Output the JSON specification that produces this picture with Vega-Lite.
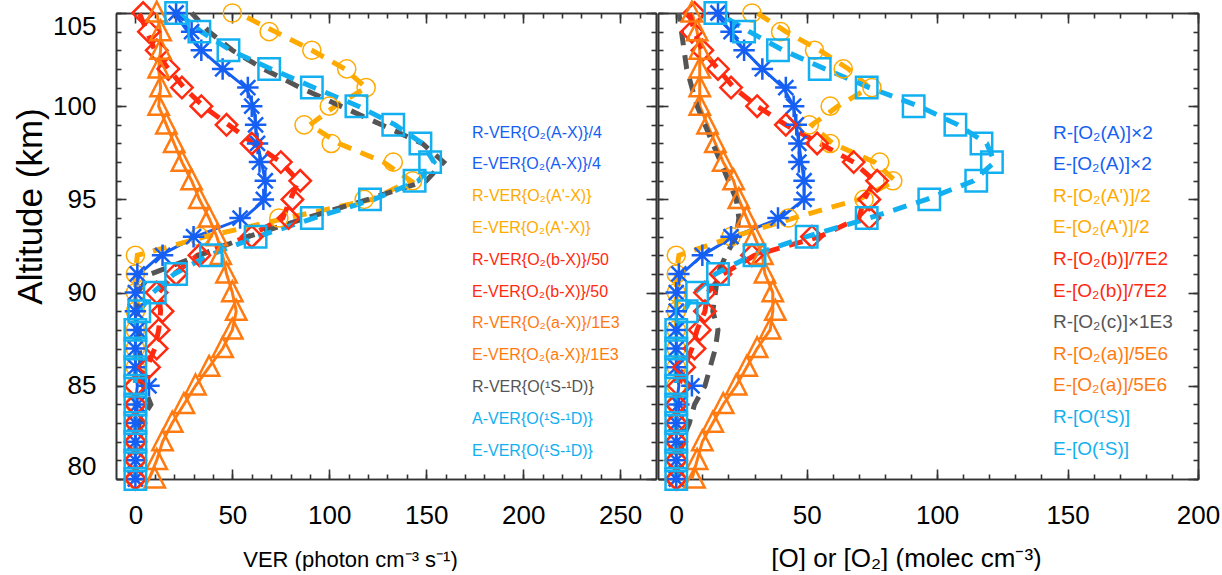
{
"$schema":"https://vega.github.io/schema/vega-lite/v6.json",
"background":"white",
"padding":{"left":13,"top":-4,"right":3,"bottom":0},
"datasets":{
"Lsolid":[
{"s":"R-VER{O₂(A-X)}/4","a":105,"v":20},{"s":"R-VER{O₂(A-X)}/4","a":104,"v":27},{"s":"R-VER{O₂(A-X)}/4","a":103,"v":34},{"s":"R-VER{O₂(A-X)}/4","a":102,"v":45},{"s":"R-VER{O₂(A-X)}/4","a":101,"v":57},{"s":"R-VER{O₂(A-X)}/4","a":100,"v":61},{"s":"R-VER{O₂(A-X)}/4","a":99,"v":62},{"s":"R-VER{O₂(A-X)}/4","a":98,"v":63},{"s":"R-VER{O₂(A-X)}/4","a":97,"v":65},{"s":"R-VER{O₂(A-X)}/4","a":96,"v":67},{"s":"R-VER{O₂(A-X)}/4","a":95,"v":67},{"s":"R-VER{O₂(A-X)}/4","a":94,"v":56},{"s":"R-VER{O₂(A-X)}/4","a":93,"v":31},{"s":"R-VER{O₂(A-X)}/4","a":92,"v":13},{"s":"R-VER{O₂(A-X)}/4","a":91,"v":2},{"s":"R-VER{O₂(A-X)}/4","a":90,"v":0},{"s":"R-VER{O₂(A-X)}/4","a":89,"v":0},{"s":"R-VER{O₂(A-X)}/4","a":88,"v":0},{"s":"R-VER{O₂(A-X)}/4","a":87,"v":0},{"s":"R-VER{O₂(A-X)}/4","a":86,"v":0},{"s":"R-VER{O₂(A-X)}/4","a":85,"v":1},{"s":"R-VER{O₂(A-X)}/4","a":84,"v":0},{"s":"R-VER{O₂(A-X)}/4","a":83,"v":0},{"s":"R-VER{O₂(A-X)}/4","a":82,"v":0},{"s":"R-VER{O₂(A-X)}/4","a":81,"v":0},{"s":"R-VER{O₂(A-X)}/4","a":80,"v":0},
{"s":"R-VER{O₂(a-X)}/1E3","a":105,"v":11},{"s":"R-VER{O₂(a-X)}/1E3","a":104,"v":13},{"s":"R-VER{O₂(a-X)}/1E3","a":103,"v":13},{"s":"R-VER{O₂(a-X)}/1E3","a":102,"v":12},{"s":"R-VER{O₂(a-X)}/1E3","a":101,"v":13},{"s":"R-VER{O₂(a-X)}/1E3","a":100,"v":12},{"s":"R-VER{O₂(a-X)}/1E3","a":99,"v":16},{"s":"R-VER{O₂(a-X)}/1E3","a":98,"v":20},{"s":"R-VER{O₂(a-X)}/1E3","a":97,"v":24},{"s":"R-VER{O₂(a-X)}/1E3","a":96,"v":29},{"s":"R-VER{O₂(a-X)}/1E3","a":95,"v":33},{"s":"R-VER{O₂(a-X)}/1E3","a":94,"v":38},{"s":"R-VER{O₂(a-X)}/1E3","a":93,"v":42},{"s":"R-VER{O₂(a-X)}/1E3","a":92,"v":45},{"s":"R-VER{O₂(a-X)}/1E3","a":91,"v":47},{"s":"R-VER{O₂(a-X)}/1E3","a":90,"v":50},{"s":"R-VER{O₂(a-X)}/1E3","a":89,"v":52},{"s":"R-VER{O₂(a-X)}/1E3","a":88,"v":50},{"s":"R-VER{O₂(a-X)}/1E3","a":87,"v":45},{"s":"R-VER{O₂(a-X)}/1E3","a":86,"v":38},{"s":"R-VER{O₂(a-X)}/1E3","a":85,"v":31},{"s":"R-VER{O₂(a-X)}/1E3","a":84,"v":25},{"s":"R-VER{O₂(a-X)}/1E3","a":83,"v":19},{"s":"R-VER{O₂(a-X)}/1E3","a":82,"v":14},{"s":"R-VER{O₂(a-X)}/1E3","a":81,"v":11},{"s":"R-VER{O₂(a-X)}/1E3","a":80,"v":7}
],
"Ldash":[
{"s":"R-VER{O₂(A'-X)}","a":105,"v":53},{"s":"R-VER{O₂(A'-X)}","a":104,"v":72},{"s":"R-VER{O₂(A'-X)}","a":103,"v":91},{"s":"R-VER{O₂(A'-X)}","a":102,"v":108},{"s":"R-VER{O₂(A'-X)}","a":101,"v":119},{"s":"R-VER{O₂(A'-X)}","a":100,"v":103},{"s":"R-VER{O₂(A'-X)}","a":99,"v":90},{"s":"R-VER{O₂(A'-X)}","a":98,"v":105},{"s":"R-VER{O₂(A'-X)}","a":97,"v":128},{"s":"R-VER{O₂(A'-X)}","a":96,"v":142},{"s":"R-VER{O₂(A'-X)}","a":95,"v":122},{"s":"R-VER{O₂(A'-X)}","a":94,"v":78},{"s":"R-VER{O₂(A'-X)}","a":93,"v":36},{"s":"R-VER{O₂(A'-X)}","a":92,"v":1},{"s":"R-VER{O₂(A'-X)}","a":91,"v":0},{"s":"R-VER{O₂(A'-X)}","a":90,"v":0},{"s":"R-VER{O₂(A'-X)}","a":89,"v":0},{"s":"R-VER{O₂(A'-X)}","a":88,"v":0},{"s":"R-VER{O₂(A'-X)}","a":87,"v":0},{"s":"R-VER{O₂(A'-X)}","a":86,"v":0},{"s":"R-VER{O₂(A'-X)}","a":85,"v":0},{"s":"R-VER{O₂(A'-X)}","a":84,"v":0},{"s":"R-VER{O₂(A'-X)}","a":83,"v":0},{"s":"R-VER{O₂(A'-X)}","a":82,"v":0},{"s":"R-VER{O₂(A'-X)}","a":81,"v":0},{"s":"R-VER{O₂(A'-X)}","a":80,"v":0},
{"s":"R-VER{O₂(b-X)}/50","a":105,"v":2},{"s":"R-VER{O₂(b-X)}/50","a":104,"v":6},{"s":"R-VER{O₂(b-X)}/50","a":103,"v":10},{"s":"R-VER{O₂(b-X)}/50","a":102,"v":17},{"s":"R-VER{O₂(b-X)}/50","a":101,"v":25},{"s":"R-VER{O₂(b-X)}/50","a":100,"v":35},{"s":"R-VER{O₂(b-X)}/50","a":99,"v":48},{"s":"R-VER{O₂(b-X)}/50","a":98,"v":61},{"s":"R-VER{O₂(b-X)}/50","a":97,"v":75},{"s":"R-VER{O₂(b-X)}/50","a":96,"v":84},{"s":"R-VER{O₂(b-X)}/50","a":95,"v":80},{"s":"R-VER{O₂(b-X)}/50","a":94,"v":76},{"s":"R-VER{O₂(b-X)}/50","a":93,"v":58},{"s":"R-VER{O₂(b-X)}/50","a":92,"v":32},{"s":"R-VER{O₂(b-X)}/50","a":91,"v":20},{"s":"R-VER{O₂(b-X)}/50","a":90,"v":12},{"s":"R-VER{O₂(b-X)}/50","a":89,"v":13},{"s":"R-VER{O₂(b-X)}/50","a":88,"v":12},{"s":"R-VER{O₂(b-X)}/50","a":87,"v":10},{"s":"R-VER{O₂(b-X)}/50","a":86,"v":6},{"s":"R-VER{O₂(b-X)}/50","a":85,"v":1},{"s":"R-VER{O₂(b-X)}/50","a":84,"v":0},{"s":"R-VER{O₂(b-X)}/50","a":83,"v":0},{"s":"R-VER{O₂(b-X)}/50","a":82,"v":0},{"s":"R-VER{O₂(b-X)}/50","a":81,"v":0},{"s":"R-VER{O₂(b-X)}/50","a":80,"v":0},
{"s":"R-VER{O(¹S-¹D)}","a":105,"v":29},{"s":"R-VER{O(¹S-¹D)}","a":104,"v":38},{"s":"R-VER{O(¹S-¹D)}","a":103,"v":50},{"s":"R-VER{O(¹S-¹D)}","a":102,"v":66},{"s":"R-VER{O(¹S-¹D)}","a":101,"v":85},{"s":"R-VER{O(¹S-¹D)}","a":100,"v":106},{"s":"R-VER{O(¹S-¹D)}","a":99,"v":127},{"s":"R-VER{O(¹S-¹D)}","a":98,"v":148},{"s":"R-VER{O(¹S-¹D)}","a":97,"v":159},{"s":"R-VER{O(¹S-¹D)}","a":96,"v":150},{"s":"R-VER{O(¹S-¹D)}","a":95,"v":120},{"s":"R-VER{O(¹S-¹D)}","a":94,"v":88},{"s":"R-VER{O(¹S-¹D)}","a":93,"v":58},{"s":"R-VER{O(¹S-¹D)}","a":92,"v":33},{"s":"R-VER{O(¹S-¹D)}","a":91,"v":8},{"s":"R-VER{O(¹S-¹D)}","a":90,"v":1},{"s":"R-VER{O(¹S-¹D)}","a":89,"v":1},{"s":"R-VER{O(¹S-¹D)}","a":88,"v":2},{"s":"R-VER{O(¹S-¹D)}","a":87,"v":2},{"s":"R-VER{O(¹S-¹D)}","a":86,"v":3},{"s":"R-VER{O(¹S-¹D)}","a":85,"v":4},{"s":"R-VER{O(¹S-¹D)}","a":84,"v":8},{"s":"R-VER{O(¹S-¹D)}","a":83,"v":2},{"s":"R-VER{O(¹S-¹D)}","a":82,"v":0},{"s":"R-VER{O(¹S-¹D)}","a":81,"v":0},{"s":"R-VER{O(¹S-¹D)}","a":80,"v":0},
{"s":"A-VER{O(¹S-¹D)}","a":105,"v":22},{"s":"A-VER{O(¹S-¹D)}","a":104,"v":34},{"s":"A-VER{O(¹S-¹D)}","a":103,"v":49},{"s":"A-VER{O(¹S-¹D)}","a":102,"v":70},{"s":"A-VER{O(¹S-¹D)}","a":101,"v":92},{"s":"A-VER{O(¹S-¹D)}","a":100,"v":115},{"s":"A-VER{O(¹S-¹D)}","a":99,"v":134},{"s":"A-VER{O(¹S-¹D)}","a":98,"v":148},{"s":"A-VER{O(¹S-¹D)}","a":97,"v":154},{"s":"A-VER{O(¹S-¹D)}","a":96,"v":146},{"s":"A-VER{O(¹S-¹D)}","a":95,"v":123},{"s":"A-VER{O(¹S-¹D)}","a":94,"v":92},{"s":"A-VER{O(¹S-¹D)}","a":93,"v":63},{"s":"A-VER{O(¹S-¹D)}","a":92,"v":38},{"s":"A-VER{O(¹S-¹D)}","a":91,"v":20},{"s":"A-VER{O(¹S-¹D)}","a":90,"v":9},{"s":"A-VER{O(¹S-¹D)}","a":89,"v":2},{"s":"A-VER{O(¹S-¹D)}","a":88,"v":0},{"s":"A-VER{O(¹S-¹D)}","a":87,"v":0},{"s":"A-VER{O(¹S-¹D)}","a":86,"v":0},{"s":"A-VER{O(¹S-¹D)}","a":85,"v":0},{"s":"A-VER{O(¹S-¹D)}","a":84,"v":0},{"s":"A-VER{O(¹S-¹D)}","a":83,"v":0},{"s":"A-VER{O(¹S-¹D)}","a":82,"v":0},{"s":"A-VER{O(¹S-¹D)}","a":81,"v":0},{"s":"A-VER{O(¹S-¹D)}","a":80,"v":0}
],
"Lcirc":[
{"s":"E-VER{O₂(A'-X)}","a":105,"v":50},{"s":"E-VER{O₂(A'-X)}","a":104,"v":69},{"s":"E-VER{O₂(A'-X)}","a":103,"v":91},{"s":"E-VER{O₂(A'-X)}","a":102,"v":109},{"s":"E-VER{O₂(A'-X)}","a":101,"v":119},{"s":"E-VER{O₂(A'-X)}","a":100,"v":100},{"s":"E-VER{O₂(A'-X)}","a":99,"v":87},{"s":"E-VER{O₂(A'-X)}","a":98,"v":101},{"s":"E-VER{O₂(A'-X)}","a":97,"v":133},{"s":"E-VER{O₂(A'-X)}","a":96,"v":143},{"s":"E-VER{O₂(A'-X)}","a":95,"v":118},{"s":"E-VER{O₂(A'-X)}","a":94,"v":74},{"s":"E-VER{O₂(A'-X)}","a":93,"v":33},{"s":"E-VER{O₂(A'-X)}","a":92,"v":0},{"s":"E-VER{O₂(A'-X)}","a":91,"v":0},{"s":"E-VER{O₂(A'-X)}","a":90,"v":0},{"s":"E-VER{O₂(A'-X)}","a":89,"v":0},{"s":"E-VER{O₂(A'-X)}","a":88,"v":0},{"s":"E-VER{O₂(A'-X)}","a":87,"v":0},{"s":"E-VER{O₂(A'-X)}","a":86,"v":0},{"s":"E-VER{O₂(A'-X)}","a":85,"v":0},{"s":"E-VER{O₂(A'-X)}","a":84,"v":0},{"s":"E-VER{O₂(A'-X)}","a":83,"v":0},{"s":"E-VER{O₂(A'-X)}","a":82,"v":0},{"s":"E-VER{O₂(A'-X)}","a":81,"v":0},{"s":"E-VER{O₂(A'-X)}","a":80,"v":0}
],
"Lpts":[
{"s":"E-VER{O₂(A-X)}/4","a":105,"v":21},{"s":"E-VER{O₂(A-X)}/4","a":104,"v":29},{"s":"E-VER{O₂(A-X)}/4","a":103,"v":34},{"s":"E-VER{O₂(A-X)}/4","a":102,"v":45},{"s":"E-VER{O₂(A-X)}/4","a":101,"v":58},{"s":"E-VER{O₂(A-X)}/4","a":100,"v":60},{"s":"E-VER{O₂(A-X)}/4","a":99,"v":62},{"s":"E-VER{O₂(A-X)}/4","a":98,"v":63},{"s":"E-VER{O₂(A-X)}/4","a":97,"v":64},{"s":"E-VER{O₂(A-X)}/4","a":96,"v":67},{"s":"E-VER{O₂(A-X)}/4","a":95,"v":66},{"s":"E-VER{O₂(A-X)}/4","a":94,"v":54},{"s":"E-VER{O₂(A-X)}/4","a":93,"v":30},{"s":"E-VER{O₂(A-X)}/4","a":92,"v":14},{"s":"E-VER{O₂(A-X)}/4","a":91,"v":1},{"s":"E-VER{O₂(A-X)}/4","a":90,"v":0},{"s":"E-VER{O₂(A-X)}/4","a":89,"v":0},{"s":"E-VER{O₂(A-X)}/4","a":88,"v":1},{"s":"E-VER{O₂(A-X)}/4","a":87,"v":0},{"s":"E-VER{O₂(A-X)}/4","a":86,"v":0},{"s":"E-VER{O₂(A-X)}/4","a":85,"v":7},{"s":"E-VER{O₂(A-X)}/4","a":84,"v":1},{"s":"E-VER{O₂(A-X)}/4","a":83,"v":0},{"s":"E-VER{O₂(A-X)}/4","a":82,"v":0},{"s":"E-VER{O₂(A-X)}/4","a":81,"v":0},{"s":"E-VER{O₂(A-X)}/4","a":80,"v":0},
{"s":"E-VER{O₂(b-X)}/50","a":105,"v":4},{"s":"E-VER{O₂(b-X)}/50","a":104,"v":7},{"s":"E-VER{O₂(b-X)}/50","a":103,"v":11},{"s":"E-VER{O₂(b-X)}/50","a":102,"v":17},{"s":"E-VER{O₂(b-X)}/50","a":101,"v":24},{"s":"E-VER{O₂(b-X)}/50","a":100,"v":34},{"s":"E-VER{O₂(b-X)}/50","a":99,"v":47},{"s":"E-VER{O₂(b-X)}/50","a":98,"v":60},{"s":"E-VER{O₂(b-X)}/50","a":97,"v":75},{"s":"E-VER{O₂(b-X)}/50","a":96,"v":85},{"s":"E-VER{O₂(b-X)}/50","a":95,"v":81},{"s":"E-VER{O₂(b-X)}/50","a":94,"v":79},{"s":"E-VER{O₂(b-X)}/50","a":93,"v":60},{"s":"E-VER{O₂(b-X)}/50","a":92,"v":33},{"s":"E-VER{O₂(b-X)}/50","a":91,"v":21},{"s":"E-VER{O₂(b-X)}/50","a":90,"v":11},{"s":"E-VER{O₂(b-X)}/50","a":89,"v":14},{"s":"E-VER{O₂(b-X)}/50","a":88,"v":12},{"s":"E-VER{O₂(b-X)}/50","a":87,"v":11},{"s":"E-VER{O₂(b-X)}/50","a":86,"v":7},{"s":"E-VER{O₂(b-X)}/50","a":85,"v":0},{"s":"E-VER{O₂(b-X)}/50","a":84,"v":0},{"s":"E-VER{O₂(b-X)}/50","a":83,"v":0},{"s":"E-VER{O₂(b-X)}/50","a":82,"v":0},{"s":"E-VER{O₂(b-X)}/50","a":81,"v":0},{"s":"E-VER{O₂(b-X)}/50","a":80,"v":0},
{"s":"E-VER{O₂(a-X)}/1E3","a":105,"v":11},{"s":"E-VER{O₂(a-X)}/1E3","a":104,"v":13},{"s":"E-VER{O₂(a-X)}/1E3","a":103,"v":13},{"s":"E-VER{O₂(a-X)}/1E3","a":102,"v":12},{"s":"E-VER{O₂(a-X)}/1E3","a":101,"v":13},{"s":"E-VER{O₂(a-X)}/1E3","a":100,"v":12},{"s":"E-VER{O₂(a-X)}/1E3","a":99,"v":16},{"s":"E-VER{O₂(a-X)}/1E3","a":98,"v":20},{"s":"E-VER{O₂(a-X)}/1E3","a":97,"v":24},{"s":"E-VER{O₂(a-X)}/1E3","a":96,"v":29},{"s":"E-VER{O₂(a-X)}/1E3","a":95,"v":33},{"s":"E-VER{O₂(a-X)}/1E3","a":94,"v":38},{"s":"E-VER{O₂(a-X)}/1E3","a":93,"v":42},{"s":"E-VER{O₂(a-X)}/1E3","a":92,"v":44},{"s":"E-VER{O₂(a-X)}/1E3","a":91,"v":47},{"s":"E-VER{O₂(a-X)}/1E3","a":90,"v":50},{"s":"E-VER{O₂(a-X)}/1E3","a":89,"v":52},{"s":"E-VER{O₂(a-X)}/1E3","a":88,"v":50},{"s":"E-VER{O₂(a-X)}/1E3","a":87,"v":45},{"s":"E-VER{O₂(a-X)}/1E3","a":86,"v":38},{"s":"E-VER{O₂(a-X)}/1E3","a":85,"v":31},{"s":"E-VER{O₂(a-X)}/1E3","a":84,"v":25},{"s":"E-VER{O₂(a-X)}/1E3","a":83,"v":19},{"s":"E-VER{O₂(a-X)}/1E3","a":82,"v":14},{"s":"E-VER{O₂(a-X)}/1E3","a":81,"v":11},{"s":"E-VER{O₂(a-X)}/1E3","a":80,"v":10},
{"s":"E-VER{O(¹S-¹D)}","a":105,"v":21},{"s":"E-VER{O(¹S-¹D)}","a":104,"v":33},{"s":"E-VER{O(¹S-¹D)}","a":103,"v":48},{"s":"E-VER{O(¹S-¹D)}","a":102,"v":69},{"s":"E-VER{O(¹S-¹D)}","a":101,"v":91},{"s":"E-VER{O(¹S-¹D)}","a":100,"v":114},{"s":"E-VER{O(¹S-¹D)}","a":99,"v":133},{"s":"E-VER{O(¹S-¹D)}","a":98,"v":147},{"s":"E-VER{O(¹S-¹D)}","a":97,"v":152},{"s":"E-VER{O(¹S-¹D)}","a":96,"v":144},{"s":"E-VER{O(¹S-¹D)}","a":95,"v":121},{"s":"E-VER{O(¹S-¹D)}","a":94,"v":91},{"s":"E-VER{O(¹S-¹D)}","a":93,"v":62},{"s":"E-VER{O(¹S-¹D)}","a":92,"v":39},{"s":"E-VER{O(¹S-¹D)}","a":91,"v":21},{"s":"E-VER{O(¹S-¹D)}","a":90,"v":10},{"s":"E-VER{O(¹S-¹D)}","a":89,"v":2},{"s":"E-VER{O(¹S-¹D)}","a":88,"v":0},{"s":"E-VER{O(¹S-¹D)}","a":87,"v":0},{"s":"E-VER{O(¹S-¹D)}","a":86,"v":0},{"s":"E-VER{O(¹S-¹D)}","a":85,"v":0},{"s":"E-VER{O(¹S-¹D)}","a":84,"v":0},{"s":"E-VER{O(¹S-¹D)}","a":83,"v":0},{"s":"E-VER{O(¹S-¹D)}","a":82,"v":0},{"s":"E-VER{O(¹S-¹D)}","a":81,"v":0},{"s":"E-VER{O(¹S-¹D)}","a":80,"v":0}
],
"Rsolid":[
{"s":"R-[O₂(A)]×2","a":105,"v":15},{"s":"R-[O₂(A)]×2","a":104,"v":21},{"s":"R-[O₂(A)]×2","a":103,"v":26},{"s":"R-[O₂(A)]×2","a":102,"v":33},{"s":"R-[O₂(A)]×2","a":101,"v":41},{"s":"R-[O₂(A)]×2","a":100,"v":45},{"s":"R-[O₂(A)]×2","a":99,"v":46},{"s":"R-[O₂(A)]×2","a":98,"v":47},{"s":"R-[O₂(A)]×2","a":97,"v":48},{"s":"R-[O₂(A)]×2","a":96,"v":49},{"s":"R-[O₂(A)]×2","a":95,"v":49},{"s":"R-[O₂(A)]×2","a":94,"v":40},{"s":"R-[O₂(A)]×2","a":93,"v":22},{"s":"R-[O₂(A)]×2","a":92,"v":10},{"s":"R-[O₂(A)]×2","a":91,"v":2},{"s":"R-[O₂(A)]×2","a":90,"v":0},{"s":"R-[O₂(A)]×2","a":89,"v":0},{"s":"R-[O₂(A)]×2","a":88,"v":0},{"s":"R-[O₂(A)]×2","a":87,"v":0},{"s":"R-[O₂(A)]×2","a":86,"v":0},{"s":"R-[O₂(A)]×2","a":85,"v":1},{"s":"R-[O₂(A)]×2","a":84,"v":0},{"s":"R-[O₂(A)]×2","a":83,"v":0},{"s":"R-[O₂(A)]×2","a":82,"v":0},{"s":"R-[O₂(A)]×2","a":81,"v":0},{"s":"R-[O₂(A)]×2","a":80,"v":0},
{"s":"R-[O₂(a)]/5E6","a":105,"v":6},{"s":"R-[O₂(a)]/5E6","a":104,"v":8},{"s":"R-[O₂(a)]/5E6","a":103,"v":9},{"s":"R-[O₂(a)]/5E6","a":102,"v":9},{"s":"R-[O₂(a)]/5E6","a":101,"v":9},{"s":"R-[O₂(a)]/5E6","a":100,"v":9},{"s":"R-[O₂(a)]/5E6","a":99,"v":12},{"s":"R-[O₂(a)]/5E6","a":98,"v":15},{"s":"R-[O₂(a)]/5E6","a":97,"v":18},{"s":"R-[O₂(a)]/5E6","a":96,"v":22},{"s":"R-[O₂(a)]/5E6","a":95,"v":24},{"s":"R-[O₂(a)]/5E6","a":94,"v":27},{"s":"R-[O₂(a)]/5E6","a":93,"v":30},{"s":"R-[O₂(a)]/5E6","a":92,"v":33},{"s":"R-[O₂(a)]/5E6","a":91,"v":34},{"s":"R-[O₂(a)]/5E6","a":90,"v":37},{"s":"R-[O₂(a)]/5E6","a":89,"v":37},{"s":"R-[O₂(a)]/5E6","a":88,"v":36},{"s":"R-[O₂(a)]/5E6","a":87,"v":31},{"s":"R-[O₂(a)]/5E6","a":86,"v":27},{"s":"R-[O₂(a)]/5E6","a":85,"v":23},{"s":"R-[O₂(a)]/5E6","a":84,"v":18},{"s":"R-[O₂(a)]/5E6","a":83,"v":14},{"s":"R-[O₂(a)]/5E6","a":82,"v":10},{"s":"R-[O₂(a)]/5E6","a":81,"v":8},{"s":"R-[O₂(a)]/5E6","a":80,"v":6}
],
"Rdash":[
{"s":"R-[O₂(A')]/2","a":105,"v":31},{"s":"R-[O₂(A')]/2","a":104,"v":42},{"s":"R-[O₂(A')]/2","a":103,"v":55},{"s":"R-[O₂(A')]/2","a":102,"v":66},{"s":"R-[O₂(A')]/2","a":101,"v":74},{"s":"R-[O₂(A')]/2","a":100,"v":62},{"s":"R-[O₂(A')]/2","a":99,"v":52},{"s":"R-[O₂(A')]/2","a":98,"v":60},{"s":"R-[O₂(A')]/2","a":97,"v":76},{"s":"R-[O₂(A')]/2","a":96,"v":84},{"s":"R-[O₂(A')]/2","a":95,"v":70},{"s":"R-[O₂(A')]/2","a":94,"v":45},{"s":"R-[O₂(A')]/2","a":93,"v":22},{"s":"R-[O₂(A')]/2","a":92,"v":1},{"s":"R-[O₂(A')]/2","a":91,"v":0},{"s":"R-[O₂(A')]/2","a":90,"v":0},{"s":"R-[O₂(A')]/2","a":89,"v":0},{"s":"R-[O₂(A')]/2","a":88,"v":0},{"s":"R-[O₂(A')]/2","a":87,"v":0},{"s":"R-[O₂(A')]/2","a":86,"v":0},{"s":"R-[O₂(A')]/2","a":85,"v":0},{"s":"R-[O₂(A')]/2","a":84,"v":0},{"s":"R-[O₂(A')]/2","a":83,"v":0},{"s":"R-[O₂(A')]/2","a":82,"v":0},{"s":"R-[O₂(A')]/2","a":81,"v":0},{"s":"R-[O₂(A')]/2","a":80,"v":0},
{"s":"R-[O₂(b)]/7E2","a":105,"v":5},{"s":"R-[O₂(b)]/7E2","a":104,"v":7},{"s":"R-[O₂(b)]/7E2","a":103,"v":10},{"s":"R-[O₂(b)]/7E2","a":102,"v":16},{"s":"R-[O₂(b)]/7E2","a":101,"v":22},{"s":"R-[O₂(b)]/7E2","a":100,"v":31},{"s":"R-[O₂(b)]/7E2","a":99,"v":42},{"s":"R-[O₂(b)]/7E2","a":98,"v":55},{"s":"R-[O₂(b)]/7E2","a":97,"v":68},{"s":"R-[O₂(b)]/7E2","a":96,"v":76},{"s":"R-[O₂(b)]/7E2","a":95,"v":72},{"s":"R-[O₂(b)]/7E2","a":94,"v":70},{"s":"R-[O₂(b)]/7E2","a":93,"v":55},{"s":"R-[O₂(b)]/7E2","a":92,"v":30},{"s":"R-[O₂(b)]/7E2","a":91,"v":18},{"s":"R-[O₂(b)]/7E2","a":90,"v":12},{"s":"R-[O₂(b)]/7E2","a":89,"v":11},{"s":"R-[O₂(b)]/7E2","a":88,"v":8},{"s":"R-[O₂(b)]/7E2","a":87,"v":6},{"s":"R-[O₂(b)]/7E2","a":86,"v":3},{"s":"R-[O₂(b)]/7E2","a":85,"v":1},{"s":"R-[O₂(b)]/7E2","a":84,"v":0},{"s":"R-[O₂(b)]/7E2","a":83,"v":0},{"s":"R-[O₂(b)]/7E2","a":82,"v":0},{"s":"R-[O₂(b)]/7E2","a":81,"v":0},{"s":"R-[O₂(b)]/7E2","a":80,"v":0},
{"s":"R-[O₂(c)]×1E3","a":105,"v":1},{"s":"R-[O₂(c)]×1E3","a":104,"v":2},{"s":"R-[O₂(c)]×1E3","a":103,"v":3},{"s":"R-[O₂(c)]×1E3","a":102,"v":4},{"s":"R-[O₂(c)]×1E3","a":101,"v":6},{"s":"R-[O₂(c)]×1E3","a":100,"v":8},{"s":"R-[O₂(c)]×1E3","a":99,"v":11},{"s":"R-[O₂(c)]×1E3","a":98,"v":14},{"s":"R-[O₂(c)]×1E3","a":97,"v":17},{"s":"R-[O₂(c)]×1E3","a":96,"v":20},{"s":"R-[O₂(c)]×1E3","a":95,"v":23},{"s":"R-[O₂(c)]×1E3","a":94,"v":24},{"s":"R-[O₂(c)]×1E3","a":93,"v":23},{"s":"R-[O₂(c)]×1E3","a":92,"v":19},{"s":"R-[O₂(c)]×1E3","a":91,"v":16},{"s":"R-[O₂(c)]×1E3","a":90,"v":15},{"s":"R-[O₂(c)]×1E3","a":89,"v":14},{"s":"R-[O₂(c)]×1E3","a":88,"v":16},{"s":"R-[O₂(c)]×1E3","a":87,"v":15},{"s":"R-[O₂(c)]×1E3","a":86,"v":13},{"s":"R-[O₂(c)]×1E3","a":85,"v":11},{"s":"R-[O₂(c)]×1E3","a":84,"v":7},{"s":"R-[O₂(c)]×1E3","a":83,"v":5},{"s":"R-[O₂(c)]×1E3","a":82,"v":2},{"s":"R-[O₂(c)]×1E3","a":81,"v":1},{"s":"R-[O₂(c)]×1E3","a":80,"v":0},
{"s":"R-[O(¹S)]","a":105,"v":16},{"s":"R-[O(¹S)]","a":104,"v":28},{"s":"R-[O(¹S)]","a":103,"v":41},{"s":"R-[O(¹S)]","a":102,"v":57},{"s":"R-[O(¹S)]","a":101,"v":74},{"s":"R-[O(¹S)]","a":100,"v":93},{"s":"R-[O(¹S)]","a":99,"v":108},{"s":"R-[O(¹S)]","a":98,"v":119},{"s":"R-[O(¹S)]","a":97,"v":122},{"s":"R-[O(¹S)]","a":96,"v":114},{"s":"R-[O(¹S)]","a":95,"v":96},{"s":"R-[O(¹S)]","a":94,"v":74},{"s":"R-[O(¹S)]","a":93,"v":50},{"s":"R-[O(¹S)]","a":92,"v":29},{"s":"R-[O(¹S)]","a":91,"v":15},{"s":"R-[O(¹S)]","a":90,"v":7},{"s":"R-[O(¹S)]","a":89,"v":3},{"s":"R-[O(¹S)]","a":88,"v":0},{"s":"R-[O(¹S)]","a":87,"v":0},{"s":"R-[O(¹S)]","a":86,"v":0},{"s":"R-[O(¹S)]","a":85,"v":0},{"s":"R-[O(¹S)]","a":84,"v":0},{"s":"R-[O(¹S)]","a":83,"v":0},{"s":"R-[O(¹S)]","a":82,"v":0},{"s":"R-[O(¹S)]","a":81,"v":0},{"s":"R-[O(¹S)]","a":80,"v":0}
],
"Rcirc":[
{"s":"E-[O₂(A')]/2","a":105,"v":29},{"s":"E-[O₂(A')]/2","a":104,"v":40},{"s":"E-[O₂(A')]/2","a":103,"v":53},{"s":"E-[O₂(A')]/2","a":102,"v":64},{"s":"E-[O₂(A')]/2","a":101,"v":75},{"s":"E-[O₂(A')]/2","a":100,"v":59},{"s":"E-[O₂(A')]/2","a":99,"v":51},{"s":"E-[O₂(A')]/2","a":98,"v":59},{"s":"E-[O₂(A')]/2","a":97,"v":78},{"s":"E-[O₂(A')]/2","a":96,"v":83},{"s":"E-[O₂(A')]/2","a":95,"v":72},{"s":"E-[O₂(A')]/2","a":94,"v":43},{"s":"E-[O₂(A')]/2","a":93,"v":21},{"s":"E-[O₂(A')]/2","a":92,"v":0},{"s":"E-[O₂(A')]/2","a":91,"v":0},{"s":"E-[O₂(A')]/2","a":90,"v":0},{"s":"E-[O₂(A')]/2","a":89,"v":0},{"s":"E-[O₂(A')]/2","a":88,"v":0},{"s":"E-[O₂(A')]/2","a":87,"v":0},{"s":"E-[O₂(A')]/2","a":86,"v":0},{"s":"E-[O₂(A')]/2","a":85,"v":0},{"s":"E-[O₂(A')]/2","a":84,"v":0},{"s":"E-[O₂(A')]/2","a":83,"v":0},{"s":"E-[O₂(A')]/2","a":82,"v":0},{"s":"E-[O₂(A')]/2","a":81,"v":0},{"s":"E-[O₂(A')]/2","a":80,"v":0}
],
"Rpts":[
{"s":"E-[O₂(A)]×2","a":105,"v":16},{"s":"E-[O₂(A)]×2","a":104,"v":21},{"s":"E-[O₂(A)]×2","a":103,"v":26},{"s":"E-[O₂(A)]×2","a":102,"v":33},{"s":"E-[O₂(A)]×2","a":101,"v":42},{"s":"E-[O₂(A)]×2","a":100,"v":45},{"s":"E-[O₂(A)]×2","a":99,"v":46},{"s":"E-[O₂(A)]×2","a":98,"v":47},{"s":"E-[O₂(A)]×2","a":97,"v":47},{"s":"E-[O₂(A)]×2","a":96,"v":49},{"s":"E-[O₂(A)]×2","a":95,"v":49},{"s":"E-[O₂(A)]×2","a":94,"v":39},{"s":"E-[O₂(A)]×2","a":93,"v":21},{"s":"E-[O₂(A)]×2","a":92,"v":10},{"s":"E-[O₂(A)]×2","a":91,"v":1},{"s":"E-[O₂(A)]×2","a":90,"v":0},{"s":"E-[O₂(A)]×2","a":89,"v":0},{"s":"E-[O₂(A)]×2","a":88,"v":0},{"s":"E-[O₂(A)]×2","a":87,"v":0},{"s":"E-[O₂(A)]×2","a":86,"v":0},{"s":"E-[O₂(A)]×2","a":85,"v":6},{"s":"E-[O₂(A)]×2","a":84,"v":1},{"s":"E-[O₂(A)]×2","a":83,"v":0},{"s":"E-[O₂(A)]×2","a":82,"v":0},{"s":"E-[O₂(A)]×2","a":81,"v":0},{"s":"E-[O₂(A)]×2","a":80,"v":0},
{"s":"E-[O₂(b)]/7E2","a":105,"v":7},{"s":"E-[O₂(b)]/7E2","a":104,"v":6},{"s":"E-[O₂(b)]/7E2","a":103,"v":10},{"s":"E-[O₂(b)]/7E2","a":102,"v":16},{"s":"E-[O₂(b)]/7E2","a":101,"v":21},{"s":"E-[O₂(b)]/7E2","a":100,"v":31},{"s":"E-[O₂(b)]/7E2","a":99,"v":42},{"s":"E-[O₂(b)]/7E2","a":98,"v":54},{"s":"E-[O₂(b)]/7E2","a":97,"v":68},{"s":"E-[O₂(b)]/7E2","a":96,"v":77},{"s":"E-[O₂(b)]/7E2","a":95,"v":74},{"s":"E-[O₂(b)]/7E2","a":94,"v":74},{"s":"E-[O₂(b)]/7E2","a":93,"v":52},{"s":"E-[O₂(b)]/7E2","a":92,"v":29},{"s":"E-[O₂(b)]/7E2","a":91,"v":17},{"s":"E-[O₂(b)]/7E2","a":90,"v":11},{"s":"E-[O₂(b)]/7E2","a":89,"v":11},{"s":"E-[O₂(b)]/7E2","a":88,"v":9},{"s":"E-[O₂(b)]/7E2","a":87,"v":7},{"s":"E-[O₂(b)]/7E2","a":86,"v":3},{"s":"E-[O₂(b)]/7E2","a":85,"v":1},{"s":"E-[O₂(b)]/7E2","a":84,"v":0},{"s":"E-[O₂(b)]/7E2","a":83,"v":0},{"s":"E-[O₂(b)]/7E2","a":82,"v":0},{"s":"E-[O₂(b)]/7E2","a":81,"v":0},{"s":"E-[O₂(b)]/7E2","a":80,"v":0},
{"s":"E-[O₂(a)]/5E6","a":105,"v":6},{"s":"E-[O₂(a)]/5E6","a":104,"v":8},{"s":"E-[O₂(a)]/5E6","a":103,"v":9},{"s":"E-[O₂(a)]/5E6","a":102,"v":9},{"s":"E-[O₂(a)]/5E6","a":101,"v":9},{"s":"E-[O₂(a)]/5E6","a":100,"v":9},{"s":"E-[O₂(a)]/5E6","a":99,"v":12},{"s":"E-[O₂(a)]/5E6","a":98,"v":15},{"s":"E-[O₂(a)]/5E6","a":97,"v":18},{"s":"E-[O₂(a)]/5E6","a":96,"v":22},{"s":"E-[O₂(a)]/5E6","a":95,"v":24},{"s":"E-[O₂(a)]/5E6","a":94,"v":27},{"s":"E-[O₂(a)]/5E6","a":93,"v":30},{"s":"E-[O₂(a)]/5E6","a":92,"v":33},{"s":"E-[O₂(a)]/5E6","a":91,"v":34},{"s":"E-[O₂(a)]/5E6","a":90,"v":37},{"s":"E-[O₂(a)]/5E6","a":89,"v":38},{"s":"E-[O₂(a)]/5E6","a":88,"v":36},{"s":"E-[O₂(a)]/5E6","a":87,"v":31},{"s":"E-[O₂(a)]/5E6","a":86,"v":27},{"s":"E-[O₂(a)]/5E6","a":85,"v":23},{"s":"E-[O₂(a)]/5E6","a":84,"v":18},{"s":"E-[O₂(a)]/5E6","a":83,"v":14},{"s":"E-[O₂(a)]/5E6","a":82,"v":10},{"s":"E-[O₂(a)]/5E6","a":81,"v":8},{"s":"E-[O₂(a)]/5E6","a":80,"v":7},
{"s":"E-[O(¹S)]","a":105,"v":15},{"s":"E-[O(¹S)]","a":104,"v":26},{"s":"E-[O(¹S)]","a":103,"v":39},{"s":"E-[O(¹S)]","a":102,"v":55},{"s":"E-[O(¹S)]","a":101,"v":73},{"s":"E-[O(¹S)]","a":100,"v":91},{"s":"E-[O(¹S)]","a":99,"v":107},{"s":"E-[O(¹S)]","a":98,"v":117},{"s":"E-[O(¹S)]","a":97,"v":121},{"s":"E-[O(¹S)]","a":96,"v":115},{"s":"E-[O(¹S)]","a":95,"v":97},{"s":"E-[O(¹S)]","a":94,"v":73},{"s":"E-[O(¹S)]","a":93,"v":50},{"s":"E-[O(¹S)]","a":92,"v":30},{"s":"E-[O(¹S)]","a":91,"v":16},{"s":"E-[O(¹S)]","a":90,"v":8},{"s":"E-[O(¹S)]","a":89,"v":4},{"s":"E-[O(¹S)]","a":88,"v":0},{"s":"E-[O(¹S)]","a":87,"v":0},{"s":"E-[O(¹S)]","a":86,"v":0},{"s":"E-[O(¹S)]","a":85,"v":0},{"s":"E-[O(¹S)]","a":84,"v":0},{"s":"E-[O(¹S)]","a":83,"v":0},{"s":"E-[O(¹S)]","a":82,"v":0},{"s":"E-[O(¹S)]","a":81,"v":0},{"s":"E-[O(¹S)]","a":80,"v":0}
]
},
"config":{
"view":{"stroke":null},
"axis":{"grid":false,"domainColor":"#333333","tickColor":"#333333","domainWidth":1.6,"tickWidth":1.6,"labelFont":"Liberation Sans","labelFontSize":26,"labelColor":"#000000","titleFont":"Liberation Sans","titleFontSize":26,"titleFontWeight":"normal","titleColor":"#000000","labelOverlap":false},
"legend":{"labelFont":"Liberation Sans","labelFontSize":19,"symbolSize":0,"symbolStrokeWidth":0,"symbolOpacity":0,"labelOffset":0,"padding":0,"rowPadding":11.6,"labelLimit":400}
},
"spacing":0,
"resolve":{"scale":{"x":"independent","y":"independent","color":"independent","shape":"independent"},"axis":{"x":"independent","y":"independent"},"legend":{"color":"independent","shape":"independent"}},
"hconcat":[
{
"width":540,"height":466,
"encoding":{"color":{"field":"s","type":"nominal","scale":{"domain":["R-VER{O₂(A-X)}/4","E-VER{O₂(A-X)}/4","R-VER{O₂(A'-X)}","E-VER{O₂(A'-X)}","R-VER{O₂(b-X)}/50","E-VER{O₂(b-X)}/50","R-VER{O₂(a-X)}/1E3","E-VER{O₂(a-X)}/1E3","R-VER{O(¹S-¹D)}","A-VER{O(¹S-¹D)}","E-VER{O(¹S-¹D)}"],"range":["#1560F2","#1560F2","#FFAA00","#FFAA00","#FF2A0F","#FF2A0F","#FF7A10","#FF7A10","#555555","#12B0F0","#12B0F0"]},"legend":{"orient":"none","legendX":340,"legendY":111.5,"title":null,"labelFontSize":16,"rowPadding":15.8,"encode":{"labels":{"update":{"fill":{"signal":"indexof(datum.value,'(A-X)')>=0||indexof(datum.value,'(A)')>=0?'#1560F2':indexof(datum.value,'(A')>=0?'#FFAA00':indexof(datum.value,'(b')>=0?'#FF2A0F':indexof(datum.value,'(a')>=0?'#FF7A10':(indexof(datum.value,'(c)')>=0||indexof(datum.value,'R-VER{O(')>=0)?'#555555':'#12B0F0'"}}}}}}},
"resolve":{"axis":{"x":"independent","y":"independent"}},
"layer":[
{"data":{"name":"Lsolid"},"mark":{"type":"line","strokeWidth":3},
"encoding":{"order":{"field":"a","type":"quantitative"},
"x":{"field":"v","type":"quantitative","scale":{"domain":[-10,268.5],"nice":false,"zero":false},"axis":{"orient":"bottom","values":[0,50,100,150,200,250],"tickSize":-10,"labelPadding":33,"labelFlush":false,"title":"VER (photon cm⁻³ s⁻¹)","titleFontSize":22,"titleX":234,"titleY":87,"titleAlign":"center","titleBaseline":"alphabetic","encode":{"labels":{"update":{"dx":{"signal":"1-0.093*datum.value"}}}}}},
"y":{"field":"a","type":"quantitative","scale":{"domain":[80,105],"nice":false,"zero":false},"axis":{"orient":"left","values":[80,85,90,95,100,105],"tickSize":-10,"labelPadding":30,"labelFlush":true,"title":"Altitude (km)","titleFont":"Liberation Sans","titleFontSize":35,"titleAngle":270,"titleX":-75,"titleY":193,"titleAlign":"center","titleBaseline":"alphabetic","encode":{"labels":{"update":{"dy":{"signal":"datum.value==80?12:0"}}}}}}}},
{"data":{"name":"Ldash"},"mark":{"type":"line","strokeWidth":5,"strokeDash":[14,10]},
"encoding":{"order":{"field":"a","type":"quantitative"},
"x":{"field":"v","type":"quantitative","scale":{"domain":[-10,268.5],"nice":false,"zero":false},"axis":{"orient":"bottom","values":[0,10,20,30,40,50,60,70,80,90,100,110,120,130,140,150,160,170,180,190,200,210,220,230,240,250,260],"tickSize":-5,"labels":false,"title":null,"minExtent":0,"maxExtent":0}},
"y":{"field":"a","type":"quantitative","scale":{"domain":[80,105],"nice":false,"zero":false},"axis":{"orient":"left","values":[80,81,82,83,84,85,86,87,88,89,90,91,92,93,94,95,96,97,98,99,100,101,102,103,104,105],"tickSize":-5,"labels":false,"title":null,"minExtent":0,"maxExtent":0}}}},
{"data":{"name":"Lcirc"},"mark":{"type":"point","shape":"circle","filled":false,"opacity":1,"size":330,"strokeWidth":1.5},
"encoding":{
"x":{"field":"v","type":"quantitative","scale":{"domain":[-10,268.5],"nice":false,"zero":false},"axis":{"orient":"top","values":[0,50,100,150,200,250],"tickSize":-10,"labels":false,"title":null,"minExtent":0,"maxExtent":0}},
"y":{"field":"a","type":"quantitative","scale":{"domain":[80,105],"nice":false,"zero":false},"axis":{"orient":"right","values":[80,85,90,95,100,105],"tickSize":-10,"labels":false,"title":null,"minExtent":0,"maxExtent":0}}}},
{"data":{"name":"Lpts"},"mark":{"type":"point","filled":false,"opacity":1,"size":460,"strokeWidth":2.5},
"encoding":{
"shape":{"field":"s","type":"nominal","scale":{"domain":["E-VER{O₂(A-X)}/4","E-VER{O₂(b-X)}/50","E-VER{O₂(a-X)}/1E3","E-VER{O(¹S-¹D)}"],"range":["M-1,0L1,0M0,-1L0,1M-0.7,-0.7L0.7,0.7M-0.7,0.7L0.7,-0.7","diamond","M0,-1.05L0.95,0.8L-0.95,0.8Z","square"]},"legend":null},
"x":{"field":"v","type":"quantitative","scale":{"domain":[-10,268.5],"nice":false,"zero":false},"axis":{"orient":"top","values":[0,10,20,30,40,50,60,70,80,90,100,110,120,130,140,150,160,170,180,190,200,210,220,230,240,250,260],"tickSize":-5,"labels":false,"title":null,"minExtent":0,"maxExtent":0}},
"y":{"field":"a","type":"quantitative","scale":{"domain":[80,105],"nice":false,"zero":false},"axis":{"orient":"right","values":[80,81,82,83,84,85,86,87,88,89,90,91,92,93,94,95,96,97,98,99,100,101,102,103,104,105],"tickSize":-5,"labels":false,"title":null,"minExtent":0,"maxExtent":0}}}}
]
},
{
"width":540,"height":466,
"encoding":{"color":{"field":"s","type":"nominal","scale":{"domain":["R-[O₂(A)]×2","E-[O₂(A)]×2","R-[O₂(A')]/2","E-[O₂(A')]/2","R-[O₂(b)]/7E2","E-[O₂(b)]/7E2","R-[O₂(c)]×1E3","R-[O₂(a)]/5E6","E-[O₂(a)]/5E6","R-[O(¹S)]","E-[O(¹S)]"],"range":["#1560F2","#1560F2","#FFAA00","#FFAA00","#FF2A0F","#FF2A0F","#555555","#FF7A10","#FF7A10","#12B0F0","#12B0F0"]},"legend":{"orient":"none","legendX":376,"legendY":110,"title":null,"labelFontSize":19,"rowPadding":11.6,"encode":{"labels":{"update":{"fill":{"signal":"indexof(datum.value,'(A-X)')>=0||indexof(datum.value,'(A)')>=0?'#1560F2':indexof(datum.value,'(A')>=0?'#FFAA00':indexof(datum.value,'(b')>=0?'#FF2A0F':indexof(datum.value,'(a')>=0?'#FF7A10':(indexof(datum.value,'(c)')>=0||indexof(datum.value,'R-VER{O(')>=0)?'#555555':'#12B0F0'"}}}}}}},
"resolve":{"axis":{"x":"independent","y":"independent"}},
"layer":[
{"data":{"name":"Rsolid"},"mark":{"type":"line","strokeWidth":3},
"encoding":{"order":{"field":"a","type":"quantitative"},
"x":{"field":"v","type":"quantitative","scale":{"domain":[-7,200],"nice":false,"zero":false},"axis":{"orient":"bottom","values":[0,50,100,150,200],"tickSize":-10,"labelPadding":33,"labelFlush":false,"title":"[O] or [O₂] (molec cm⁻³)","titleFontSize":26,"titleX":248,"titleY":87,"titleAlign":"center","titleBaseline":"alphabetic"}},
"y":{"field":"a","type":"quantitative","scale":{"domain":[80,105],"nice":false,"zero":false},"axis":{"orient":"left","values":[80,85,90,95,100,105],"tickSize":-10,"labels":false,"title":null,"minExtent":0,"maxExtent":0}}}},
{"data":{"name":"Rdash"},"mark":{"type":"line","strokeWidth":5,"strokeDash":[14,10]},
"encoding":{"order":{"field":"a","type":"quantitative"},
"x":{"field":"v","type":"quantitative","scale":{"domain":[-7,200],"nice":false,"zero":false},"axis":{"orient":"bottom","values":[0,10,20,30,40,50,60,70,80,90,100,110,120,130,140,150,160,170,180,190,200],"tickSize":-5,"labels":false,"title":null,"minExtent":0,"maxExtent":0}},
"y":{"field":"a","type":"quantitative","scale":{"domain":[80,105],"nice":false,"zero":false},"axis":{"orient":"left","values":[80,81,82,83,84,85,86,87,88,89,90,91,92,93,94,95,96,97,98,99,100,101,102,103,104,105],"tickSize":-5,"labels":false,"title":null,"minExtent":0,"maxExtent":0}}}},
{"data":{"name":"Rcirc"},"mark":{"type":"point","shape":"circle","filled":false,"opacity":1,"size":330,"strokeWidth":1.5},
"encoding":{
"x":{"field":"v","type":"quantitative","scale":{"domain":[-7,200],"nice":false,"zero":false},"axis":{"orient":"top","values":[0,50,100,150,200],"tickSize":-10,"labels":false,"title":null,"minExtent":0,"maxExtent":0}},
"y":{"field":"a","type":"quantitative","scale":{"domain":[80,105],"nice":false,"zero":false},"axis":{"orient":"right","values":[80,85,90,95,100,105],"tickSize":-10,"labels":false,"title":null,"minExtent":0,"maxExtent":0}}}},
{"data":{"name":"Rpts"},"mark":{"type":"point","filled":false,"opacity":1,"size":460,"strokeWidth":2.5},
"encoding":{
"shape":{"field":"s","type":"nominal","scale":{"domain":["E-[O₂(A)]×2","E-[O₂(b)]/7E2","E-[O₂(a)]/5E6","E-[O(¹S)]"],"range":["M-1,0L1,0M0,-1L0,1M-0.7,-0.7L0.7,0.7M-0.7,0.7L0.7,-0.7","diamond","M0,-1.05L0.95,0.8L-0.95,0.8Z","square"]},"legend":null},
"x":{"field":"v","type":"quantitative","scale":{"domain":[-7,200],"nice":false,"zero":false},"axis":{"orient":"top","values":[0,10,20,30,40,50,60,70,80,90,100,110,120,130,140,150,160,170,180,190,200],"tickSize":-5,"labels":false,"title":null,"minExtent":0,"maxExtent":0}},
"y":{"field":"a","type":"quantitative","scale":{"domain":[80,105],"nice":false,"zero":false},"axis":{"orient":"right","values":[80,81,82,83,84,85,86,87,88,89,90,91,92,93,94,95,96,97,98,99,100,101,102,103,104,105],"tickSize":-5,"labels":false,"title":null,"minExtent":0,"maxExtent":0}}}}
]
}
]
}
